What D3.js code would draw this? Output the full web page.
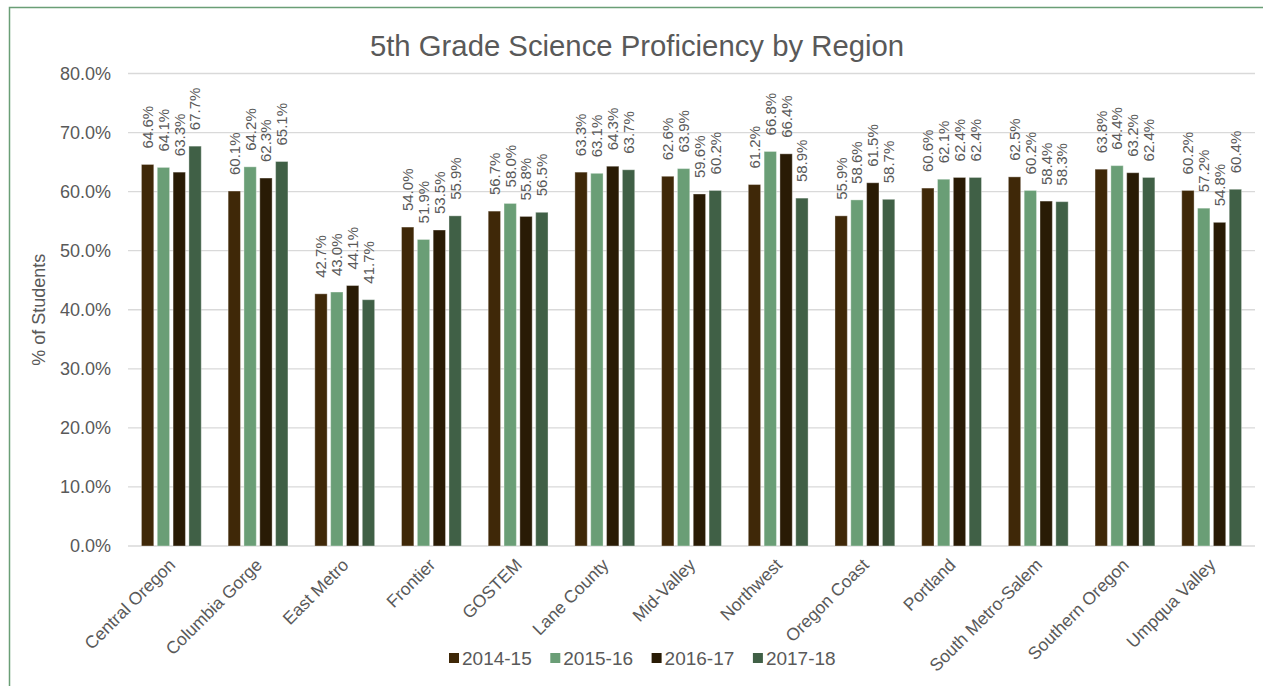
<!DOCTYPE html>
<html>
<head>
<meta charset="utf-8">
<script src="https://cdn.jsdelivr.net/npm/d3@7"></script>
<style>
body { margin: 0; background: #ffffff; }
svg { display: block; font-family: "Liberation Sans", Arial, sans-serif; }
</style>
</head>
<body>
<svg></svg>
<script>
var screen = {width: 1263, height: 686};
var margins = {top: 73.5, right: 8, bottom: 140, left: 128};

var regions = ["Central Oregon", "Columbia Gorge", "East Metro", "Frontier", "GOSTEM",
    "Lane County", "Mid-Valley", "Northwest", "Oregon Coast", "Portland",
    "South Metro-Salem", "Southern Oregon", "Umpqua Valley"];
var years = ["2014-15", "2015-16", "2016-17", "2017-18"];
var colors = ["#3f2808", "#6a9e76", "#291b05", "#406046"];

var y2014 = [64.6, 60.1, 42.7, 54.0, 56.7, 63.3, 62.6, 61.2, 55.9, 60.6, 62.5, 63.8, 60.2];
var y2015 = [64.1, 64.2, 43.0, 51.9, 58.0, 63.1, 63.9, 66.8, 58.6, 62.1, 60.2, 64.4, 57.2];
var y2016 = [63.3, 62.3, 44.1, 53.5, 55.8, 64.3, 59.6, 66.4, 61.5, 62.4, 58.4, 63.2, 54.8];
var y2017 = [67.7, 65.1, 41.7, 55.9, 56.5, 63.7, 60.2, 58.9, 58.7, 62.4, 58.3, 62.4, 60.4];
var series = [y2014, y2015, y2016, y2017];

var yTicks = [0, 10, 20, 30, 40, 50, 60, 70, 80];

var svg = d3.select("svg")
    .attr("width", screen.width)
    .attr("height", screen.height);

// outer frame (right and bottom edges run off the window)
svg.append("rect")
    .attr("x", 9.5)
    .attr("y", 7.5)
    .attr("width", 1300)
    .attr("height", 700)
    .attr("fill", "none")
    .attr("stroke", "#6a9e76")
    .attr("stroke-width", 1.5);

var width = 1255 - margins.left;
var height = 546 - margins.top;

var graph = svg.append("g")
    .attr("transform", "translate(" + margins.left + "," + margins.top + ")");

var x0 = d3.scaleBand()
    .domain(regions)
    .range([0, width])
    .paddingInner(0.31)
    .paddingOuter(0.155);

var x1 = d3.scaleBand()
    .domain(years)
    .range([0, x0.bandwidth()])
    .paddingInner(0.22);

var yScale = d3.scaleLinear()
    .domain([0, 80])
    .range([height, 0]);

// gridlines
graph.append("g")
    .selectAll("line")
    .data(yTicks)
    .enter()
    .append("line")
    .attr("x1", 0)
    .attr("x2", width)
    .attr("y1", function(d){return yScale(d);})
    .attr("y2", function(d){return yScale(d);})
    .attr("stroke", "#d9d9d9")
    .attr("stroke-width", 1.3);

// y tick labels
var yAxis = d3.axisLeft(yScale)
    .tickValues(yTicks)
    .tickSize(0)
    .tickPadding(17)
    .tickFormat(function(d){return d.toFixed(1) + "%";});

graph.append("g")
    .call(yAxis)
    .call(function(g){g.select(".domain").remove();})
    .selectAll("text")
    .attr("fill", "#595959")
    .style("font-size", "18px");

// x category labels
var xAxis = d3.axisBottom(x0).tickSize(0).tickPadding(0);

graph.append("g")
    .attr("transform", "translate(0," + height + ")")
    .call(xAxis)
    .call(function(g){g.select(".domain").remove();})
    .selectAll("text")
    .attr("fill", "#595959")
    .style("font-size", "17.5px")
    .attr("text-anchor", "end")
    .attr("dy", "0")
    .attr("transform", "translate(5,20) rotate(-45)");

// bars
var groups = graph.selectAll(".group")
    .data(regions)
    .enter()
    .append("g")
    .attr("class", "group")
    .attr("transform", function(d){return "translate(" + x0(d) + ",0)";});

groups.selectAll("rect")
    .data(function(d, i){return series.map(function(s, k){return {year: years[k], value: s[i], k: k};});})
    .enter()
    .append("rect")
    .attr("x", function(d){return x1(d.year);})
    .attr("y", function(d){return yScale(d.value);})
    .attr("width", x1.bandwidth())
    .attr("height", function(d){return height - yScale(d.value);})
    .attr("fill", function(d){return colors[d.k];})
    .attr("stroke", "rgba(255,255,255,0.35)")
    .attr("stroke-width", 1);

// data labels
groups.selectAll("text.val")
    .data(function(d, i){return series.map(function(s, k){return {year: years[k], value: s[i], k: k};});})
    .enter()
    .append("text")
    .attr("class", "val")
    .attr("transform", function(d)
    {
        return "translate(" + (x1(d.year) + x1.bandwidth() / 2) + "," + (yScale(d.value) - 16) + ") rotate(-90)";
    })
    .attr("dy", "0.36em")
    .attr("text-anchor", "start")
    .attr("fill", "#595959")
    .style("font-size", "15px")
    .text(function(d){return d.value.toFixed(1) + "%";});

// title
svg.append("text")
    .attr("x", 637)
    .attr("y", 56)
    .attr("text-anchor", "middle")
    .attr("fill", "#595959")
    .style("font-size", "29.3px")
    .text("5th Grade Science Proficiency by Region");

// y axis title
svg.append("text")
    .attr("transform", "translate(45," + (margins.top + height / 2) + ") rotate(-90)")
    .attr("text-anchor", "middle")
    .attr("fill", "#595959")
    .style("font-size", "18px")
    .text("% of Students");

// legend
var legend = svg.append("g")
    .selectAll("g")
    .data(years)
    .enter()
    .append("g")
    .attr("transform", function(d, i){return "translate(" + (449 + i * 101.3) + ",653)";});

legend.append("rect")
    .attr("width", 10)
    .attr("height", 10)
    .attr("fill", function(d, i){return colors[i];});

legend.append("text")
    .attr("x", 13)
    .attr("y", 12)
    .attr("fill", "#595959")
    .style("font-size", "19px")
    .text(function(d){return d;});
</script>
</body>
</html>
